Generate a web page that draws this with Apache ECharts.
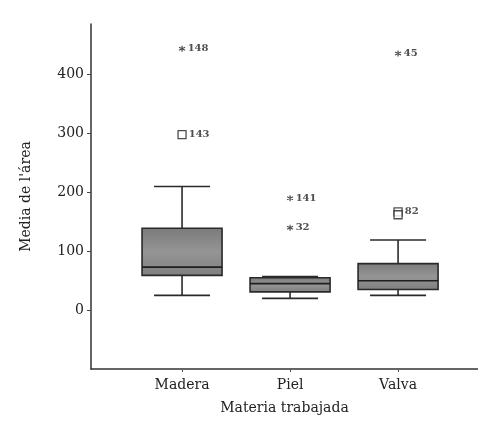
<!DOCTYPE html>
<html>
<head>
<meta charset="utf-8">
<script src="https://cdn.jsdelivr.net/npm/echarts@6/dist/echarts.min.js"></script>
<style>
  html, body { margin: 0; padding: 0; background: #ffffff; }
  #chart { width: 478px; height: 421px; }
</style>
</head>
<body>
<div id="chart"></div>
<script>
// Box summaries per material
var categories = ['Madera', 'Piel', 'Valva'];
var whiskerLow  = [25, 20, 25];
var q1          = [59, 31, 35];
var medians     = [73, 45, 50];
var q3          = [139, 55, 79];
var whiskerHigh = [210, 57, 119];

// Extreme values (asterisk) and outliers (square), with case numbers
var extremeCat = [0, 1, 1, 2];
var extremeVal = [444, 190, 140, 436];
var extremeId  = ['148', '141', '32', '45'];

var outlierCat = [0, 2, 2];
var outlierVal = [298, 167, 162];
var outlierId  = ['143', '82', ''];

var yTicks = [0, 100, 200, 300, 400];

var chart = echarts.init(document.getElementById('chart'));
var serif = '"DejaVu Serif", "Liberation Serif", serif';

var boxData = categories.map(function (c, i) {
  return [i + 1, whiskerLow[i], q1[i], medians[i], q3[i], whiskerHigh[i]];
});
var extremeData = extremeVal.map(function (v, i) {
  return { value: [extremeCat[i] + 1, v], id: extremeId[i] };
});
var outlierData = outlierVal.map(function (v, i) {
  return { value: [outlierCat[i] + 1, v], id: outlierId[i] };
});

function renderBox(params, api) {
  var x = api.value(0);
  var pLow = api.coord([x, api.value(1)]);
  var pQ1 = api.coord([x, api.value(2)]);
  var pMed = api.coord([x, api.value(3)]);
  var pQ3 = api.coord([x, api.value(4)]);
  var pHigh = api.coord([x, api.value(5)]);
  var half = 40, wHalf = 28;
  var cx = pQ1[0];
  var stroke = { stroke: '#2a2a2a', lineWidth: 1.6 };
  return {
    type: 'group',
    children: [
      { type: 'line', shape: { x1: cx, y1: pHigh[1], x2: cx, y2: pQ3[1] }, style: stroke },
      { type: 'line', shape: { x1: cx, y1: pQ1[1], x2: cx, y2: pLow[1] }, style: stroke },
      { type: 'line', shape: { x1: cx - wHalf, y1: pHigh[1], x2: cx + wHalf, y2: pHigh[1] }, style: stroke },
      { type: 'line', shape: { x1: cx - wHalf, y1: pLow[1], x2: cx + wHalf, y2: pLow[1] }, style: stroke },
      {
        type: 'rect',
        shape: { x: cx - half, y: pQ3[1], width: half * 2, height: pQ1[1] - pQ3[1] },
        style: {
          fill: new echarts.graphic.LinearGradient(0, 0, 0, 1, [
            { offset: 0, color: '#7a7a7a' },
            { offset: 0.5, color: '#959595' },
            { offset: 1, color: '#7e7e7e' }
          ]),
          stroke: '#2a2a2a', lineWidth: 1.6
        }
      },
      { type: 'line', shape: { x1: cx - half, y1: pMed[1], x2: cx + half, y2: pMed[1] }, style: { stroke: '#1e1e1e', lineWidth: 1.6 } }
    ]
  };
}

var idLabel = {
  show: true,
  position: 'right',
  distance: 2,
  fontFamily: serif,
  fontSize: 10,
  fontWeight: 'bold',
  color: '#222',
  formatter: function (p) { return p.data.id; }
};

chart.setOption({
  animation: false,
  backgroundColor: '#ffffff',
  grid: { left: 91, right: 0, top: 24, bottom: 52 },
  xAxis: {
    type: 'value',
    min: 0.157,
    max: 3.74,
    splitLine: { show: false },
    axisLine: { show: true, onZero: false, lineStyle: { color: '#333', width: 1.5 } },
    axisTick: { show: true, length: 3, customValues: [1, 2, 3], lineStyle: { color: '#555' } },
    axisLabel: {
      customValues: [1, 2, 3],
      margin: 9,
      fontFamily: serif,
      fontSize: 14,
      color: '#222',
      formatter: function (v) { return categories[Math.round(v) - 1]; }
    },
    name: 'Materia trabajada',
    nameLocation: 'middle',
    nameGap: 32,
    nameTextStyle: { fontFamily: serif, fontSize: 14, color: '#222' }
  },
  yAxis: {
    type: 'value',
    min: -100,
    max: 486,
    splitLine: { show: false },
    axisLine: { show: true, onZero: false, lineStyle: { color: '#333', width: 1.5 } },
    axisTick: { show: true, length: 4, customValues: yTicks, lineStyle: { color: '#444' } },
    axisLabel: {
      customValues: yTicks,
      margin: 7,
      fontFamily: serif,
      fontSize: 14,
      color: '#222'
    },
    name: "Media de l'área",
    nameLocation: 'middle',
    nameGap: 58,
    nameTextStyle: { fontFamily: serif, fontSize: 14, color: '#222' }
  },
  series: [
    {
      type: 'custom',
      renderItem: renderBox,
      encode: { x: 0, y: [1, 2, 3, 4, 5] },
      data: boxData,
      z: 2
    },
    {
      type: 'scatter',
      symbol: 'path://M0,-5L0,5M-4.33,-2.5L4.33,2.5M-4.33,2.5L4.33,-2.5',
      symbolSize: 6,
      itemStyle: { color: 'rgba(0,0,0,0)', borderColor: '#222', borderWidth: 1.2 },
      label: idLabel,
      data: extremeData,
      z: 3
    },
    {
      type: 'scatter',
      symbol: 'rect',
      symbolSize: 8,
      itemStyle: { color: '#ffffff', borderColor: '#222', borderWidth: 1.3 },
      label: idLabel,
      data: outlierData,
      z: 3
    }
  ]
});
</script>
</body>
</html>
